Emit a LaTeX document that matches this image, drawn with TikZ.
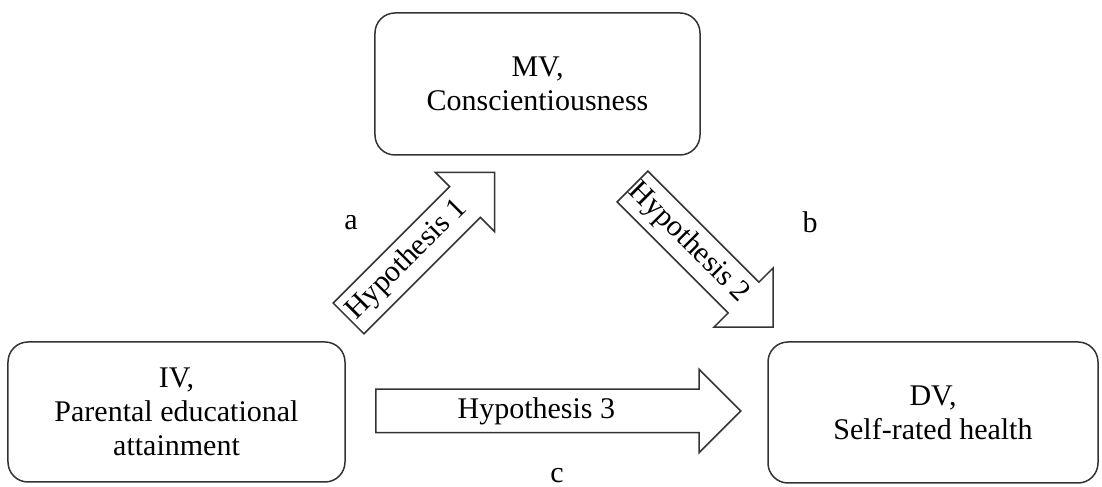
\documentclass[tikz,border=0pt]{standalone}
\usepackage{fontspec}
\setmainfont{Liberation Serif}
\usetikzlibrary{shapes.arrows,calc}
\begin{document}
\begin{tikzpicture}
  [x=0.4pt,y=0.4pt,every node/.style={font=\fontsize{12}{13.5}\selectfont},
   var/.style={draw=black!80,line width=0.6pt,rounded corners=8pt,align=center},
   hyp/.style={draw=black!80,line width=0.6pt,single arrow,single arrow head extend=8pt,
     inner xsep=0pt,inner ysep=8.4pt,anchor=tail}]
  \useasboundingbox (0,0) rectangle (1102,487);

  \node (mv)[var,minimum width=130pt,minimum height=56.8pt] at (537.5,403) {MV,\\Conscientiousness};
  \node (iv)[var,minimum width=134.8pt,minimum height=56pt] at (176.5,75) {IV,\\Parental educational\\attainment};
  \node (dv)[var,minimum width=132pt,minimum height=56.4pt] at (933,74.5) {DV,\\Self-rated health};

  \node (h1)[hyp,rotate=45,minimum height=82.6pt] at (348,168) {};
  \node (h2)[hyp,rotate=-45,minimum height=79.5pt] at (632,301) {};
  \node (h3)[hyp,minimum height=146pt] at (375,76) {};

  \node (t1)[rotate=45] at ($(h1.tail)!.40!(h1.tip)$) {Hypothesis 1};
  \node (t2)[rotate=-45] at ($(h2.tail)!.40!(h2.tip)$) {Hypothesis 2};
  \node (t3) at ($(h3.tail)!.44!(h3.tip)$) {Hypothesis 3};

  \node (a) at (351,264) {a};
  \node (b) at (810,265) {b};
  \node (c) at (557,11) {c};

\end{tikzpicture}
\end{document}
